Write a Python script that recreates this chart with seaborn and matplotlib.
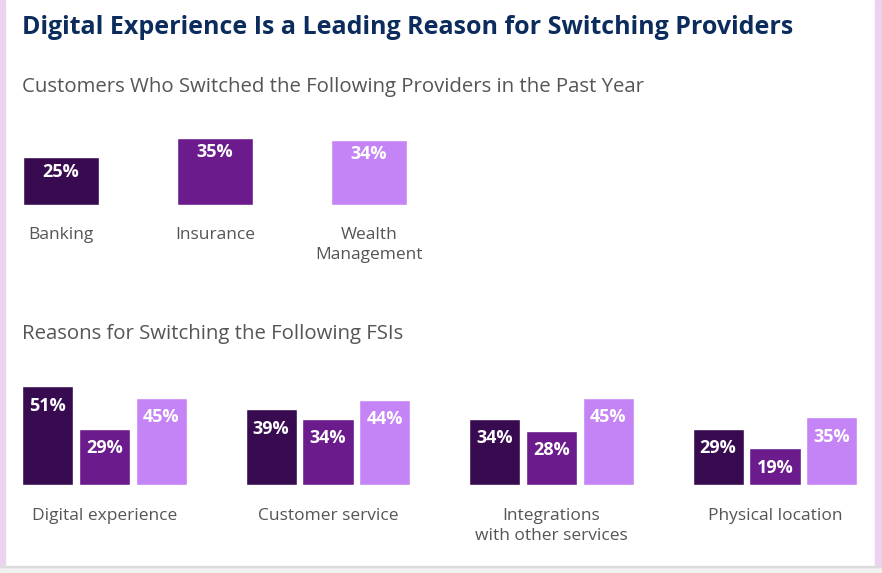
import matplotlib
matplotlib.use("Agg")
import matplotlib.pyplot as plt
from matplotlib.patches import Rectangle
import seaborn as sns
import pandas as pd

# data
providers = ["Banking", "Insurance", "Wealth\nManagement"]
switched = [25, 35, 34]

reasons = ["Digital experience", "Customer service",
           "Integrations\nwith other services", "Physical location"]
banking = [51, 39, 34, 29]
insurance = [29, 34, 28, 19]
wealth = [45, 44, 45, 35]

colors = ["#380b50", "#6b1b8b", "#c584f5"]

sns.set_style("white")
plt.rcParams["font.family"] = ["Open Sans", "DejaVu Sans"]

W, H = 882, 573
fig = plt.figure(figsize=(W / 100, H / 100), dpi=100)
fig.patch.set_facecolor("white")

# frame strips
fig.patches.append(Rectangle((0, 0), 5 / W, 1, transform=fig.transFigure,
                             color="#ebd3ef", zorder=0))
fig.patches.append(Rectangle((875 / W, 0), 7 / W, 1, transform=fig.transFigure,
                             color="#ebd3ef", zorder=0))
fig.patches.append(Rectangle((0, 0), 1, 6 / H, transform=fig.transFigure,
                             color="#f1f1f1", zorder=1))
fig.patches.append(Rectangle((0, 6 / H), 1, 1 / H, transform=fig.transFigure,
                             color="#dcdcdc", zorder=1))

fig.text(22 / W, 1 - 28 / H, "Digital Experience Is a Leading Reason for Switching Providers",
         ha="left", va="center", fontsize=18, fontweight="bold", color="#0b2c5c")
fig.text(22 / W, 1 - 87 / H, "Customers Who Switched the Following Providers in the Past Year",
         ha="left", va="center", fontsize=14.7, color="#555555")
fig.text(22 / W, 1 - 334 / H, "Reasons for Switching the Following FSIs",
         ha="left", va="center", fontsize=14.7, color="#555555")


def style_axis(ax, pad):
    ax.set_facecolor("none")
    for s in ax.spines.values():
        s.set_visible(False)
    ax.set_xlabel("")
    ax.set_ylabel("")
    ax.set_yticks([])
    ax.tick_params(axis="x", length=0, pad=pad, labelsize=12.5, labelcolor="#555555")
    for t in ax.get_xticklabels():
        t.set_linespacing(1.3)


def label_bars(ax, offset):
    for cont in ax.containers:
        for bar in cont:
            h = bar.get_height()
            ax.annotate(f"{h:.0f}%", (bar.get_x() + bar.get_width() / 2, h),
                        xytext=(0, -offset), textcoords="offset points",
                        ha="center", va="center", color="white",
                        fontsize=13, fontweight="bold")


# top panel
df_top = pd.DataFrame({"provider": providers, "pct": switched})
ax1 = fig.add_axes([0, (H - 205) / H, 875 / W, 80 / H])
sns.barplot(data=df_top, x="provider", y="pct", hue="provider", palette=colors,
            legend=False, width=0.494, saturation=1, ax=ax1)
ax1.set_xlim((0 - 61) / 154, (875 - 61) / 154)
ax1.set_ylim(0, 80 / 1.92)
style_axis(ax1, 16)
label_bars(ax1, 10.5)

# bottom panel
df_bot = pd.DataFrame({
    "reason": reasons * 3,
    "provider": ["Banking"] * 4 + ["Insurance"] * 4 + ["Wealth Management"] * 4,
    "pct": banking + insurance + wealth,
})
ax2 = fig.add_axes([0, (H - 485) / H, 875 / W, 116 / H])
sns.barplot(data=df_bot, x="reason", y="pct", hue="provider", palette=colors,
            legend=False, width=0.765, gap=0.105, saturation=1, ax=ax2)
ax2.set_xlim((0 - 104.5) / 223.5, (875 - 104.5) / 223.5)
ax2.set_ylim(0, 116 / 1.94)
style_axis(ax2, 16.5)
label_bars(ax2, 14)

fig.savefig("out.png", dpi=100)
